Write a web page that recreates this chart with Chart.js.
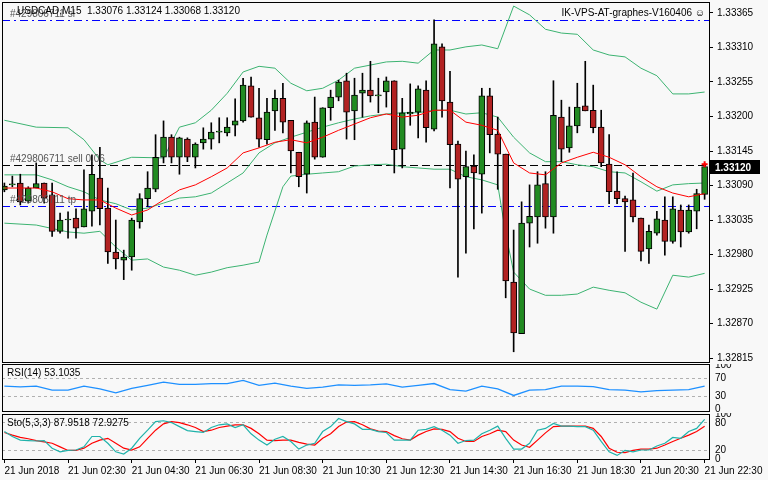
<!DOCTYPE html>
<html><head><meta charset="utf-8">
<script src="https://cdn.jsdelivr.net/npm/chart.js@4"></script>
<style>
body{margin:0;background:#f8f8f8;width:768px;height:480px;overflow:hidden;position:relative;font-family:"Liberation Sans",Arial,sans-serif}
canvas{position:absolute;left:0}
</style></head><body>
<canvas id="main" width="768" height="364" style="top:0"></canvas>
<canvas id="rsi" width="768" height="48" style="top:364px"></canvas>
<canvas id="sto" width="768" height="67" style="top:413px"></canvas>
<script>
const timeLabels=["21 Jun 2018","21 Jun 02:30","21 Jun 04:30","21 Jun 06:30","21 Jun 08:30","21 Jun 10:30","21 Jun 12:30","21 Jun 14:30","21 Jun 16:30","21 Jun 18:30","21 Jun 20:30","21 Jun 22:30"];
const priceTicks=[1.32815,1.32870,1.32925,1.32980,1.33035,1.33090,1.33145,1.33200,1.33255,1.33310,1.33365];
const open=[1.33083,1.33091,1.33094,1.33065,1.33086,1.33094,1.33075,1.33017,1.33035,1.33038,1.33024,1.33049,1.33102,1.33054,1.32984,1.32971,1.32976,1.33032,1.33069,1.33084,1.33135,1.33167,1.33135,1.33164,1.33135,1.33158,1.33164,1.33175,1.33174,1.33186,1.33193,1.33249,1.33198,1.33163,1.33209,1.33229,1.33194,1.33143,1.33108,1.33191,1.33135,1.33214,1.33231,1.33257,1.33209,1.33237,1.33242,1.33233,1.33239,1.33257,1.33148,1.33204,1.33207,1.33242,1.33180,1.33311,1.33223,1.33156,1.33104,1.33121,1.33108,1.33233,1.33172,1.33140,1.32936,1.32854,1.33030,1.33040,1.33093,1.33040,1.33199,1.33150,1.33185,1.33217,1.33210,1.33183,1.33124,1.33081,1.33069,1.33067,1.33038,1.32989,1.33014,1.33035,1.33001,1.33051,1.33016,1.33049,1.33076];
const close=[1.33089,1.33091,1.33064,1.33086,1.33093,1.33070,1.33017,1.33035,1.33035,1.33022,1.33053,1.33108,1.33053,1.32984,1.32973,1.32976,1.33035,1.33069,1.33086,1.33135,1.33167,1.33135,1.33166,1.33135,1.33156,1.33164,1.33175,1.33175,1.33183,1.33193,1.33250,1.33199,1.33164,1.33207,1.33229,1.33191,1.33145,1.33104,1.33190,1.33135,1.33214,1.33231,1.33255,1.33207,1.33234,1.33242,1.33233,1.33233,1.33257,1.33147,1.33206,1.33207,1.33244,1.33182,1.33316,1.33225,1.33155,1.33100,1.33120,1.33110,1.33233,1.33171,1.33140,1.32938,1.32855,1.33030,1.33041,1.33091,1.33040,1.33202,1.33148,1.33185,1.33215,1.33209,1.33182,1.33126,1.33080,1.33069,1.33064,1.33040,1.32985,1.33017,1.33037,1.33001,1.33053,1.33016,1.33051,1.33077,1.33120];
const high=[1.33094,1.33105,1.33108,1.33088,1.33126,1.33094,1.33094,1.33046,1.33048,1.33053,1.33115,1.33139,1.33151,1.33086,1.33035,1.32987,1.33038,1.33077,1.33112,1.33171,1.33193,1.33171,1.33167,1.33166,1.33158,1.33182,1.33190,1.33198,1.33198,1.33228,1.33261,1.33263,1.33245,1.33229,1.33242,1.33253,1.33194,1.33143,1.33193,1.33231,1.33214,1.33242,1.33258,1.33269,1.33261,1.33269,1.33288,1.33261,1.33263,1.33257,1.33229,1.33252,1.33249,1.33257,1.33354,1.33316,1.33272,1.33161,1.33145,1.33139,1.33245,1.33245,1.33199,1.33140,1.33019,1.33064,1.33091,1.33112,1.33112,1.33257,1.33226,1.33215,1.33253,1.33288,1.33250,1.33210,1.33171,1.33112,1.33073,1.33110,1.33038,1.33027,1.33049,1.33072,1.33072,1.33059,1.33059,1.33084,1.33124];
const low=[1.33080,1.33088,1.33059,1.33062,1.33086,1.33062,1.33009,1.33014,1.33006,1.33006,1.33024,1.33025,1.33027,1.32966,1.32957,1.32940,1.32955,1.33022,1.33056,1.33080,1.33126,1.33126,1.33108,1.33128,1.33118,1.33148,1.33148,1.33158,1.33169,1.33169,1.33191,1.33199,1.33151,1.33156,1.33178,1.33174,1.33110,1.33088,1.33078,1.33132,1.33135,1.33194,1.33225,1.33164,1.33163,1.33199,1.33223,1.33206,1.33215,1.33110,1.33118,1.33186,1.33166,1.33159,1.33177,1.33199,1.33086,1.32944,1.32982,1.33021,1.33046,1.33142,1.33084,1.32911,1.32825,1.32854,1.32992,1.32998,1.33022,1.33014,1.33128,1.33143,1.33174,1.33209,1.33174,1.33120,1.33061,1.33061,1.32985,1.33032,1.32970,1.32966,1.33011,1.32979,1.32998,1.32992,1.33014,1.33021,1.33068];
const bbUpper=[[0,1.33194],[4,1.33183],[8,1.33182],[10,1.33163],[12,1.33131],[13,1.33123],[16,1.33135],[20,1.33134],[22,1.33183],[24,1.33190],[26,1.33210],[28,1.33237],[30,1.33271],[32,1.33280],[34,1.33277],[36,1.33253],[38,1.33241],[40,1.33245],[42,1.33258],[44,1.33277],[46,1.33282],[48,1.33287],[50,1.33288],[52,1.33285],[54,1.33306],[56,1.33306],[58,1.33311],[60,1.33314],[62,1.33308],[64,1.33376],[66,1.33362],[68,1.33339],[70,1.33333],[72,1.33331],[74,1.33306],[76,1.33298],[78,1.33295],[80,1.33277],[82,1.33265],[84,1.33236],[86,1.33236],[88,1.33239]];
const bbMiddle=[[0,1.33107],[4,1.33107],[6,1.33099],[8,1.33088],[10,1.33080],[12,1.33067],[14,1.33061],[16,1.33051],[18,1.33054],[20,1.33062],[22,1.33070],[24,1.33072],[26,1.33078],[28,1.33094],[30,1.33110],[32,1.33142],[34,1.33158],[36,1.33167],[38,1.33175],[40,1.33183],[42,1.33190],[44,1.33196],[46,1.33201],[48,1.33204],[50,1.33206],[52,1.33206],[54,1.33210],[56,1.33210],[58,1.33204],[60,1.33206],[62,1.33199],[64,1.33167],[66,1.33142],[68,1.33128],[70,1.33128],[72,1.33123],[74,1.33120],[76,1.33112],[78,1.33110],[80,1.33096],[82,1.33081],[84,1.33091],[86,1.33093],[88,1.33094]];
const bbLower=[[0,1.33030],[4,1.33027],[8,1.33016],[10,1.33014],[12,1.33017],[14,1.32992],[16,1.32971],[18,1.32973],[20,1.32960],[22,1.32955],[24,1.32947],[26,1.32952],[28,1.32959],[30,1.32963],[32,1.32968],[33,1.33011],[35,1.33088],[36,1.33105],[38,1.33108],[40,1.33110],[42,1.33112],[44,1.33121],[46,1.33123],[48,1.33124],[50,1.33120],[52,1.33118],[54,1.33116],[56,1.33116],[58,1.33104],[60,1.33099],[62,1.33091],[63,1.33014],[64,1.32952],[66,1.32925],[68,1.32915],[70,1.32915],[72,1.32917],[74,1.32928],[76,1.32923],[78,1.32919],[80,1.32904],[82,1.32893],[84,1.32947],[86,1.32944],[88,1.32950]];
const maRed=[[0,1.33086],[4,1.33086],[6,1.33080],[8,1.33069],[10,1.33067],[12,1.33067],[14,1.33054],[16,1.33043],[18,1.33051],[20,1.33067],[22,1.33083],[24,1.33091],[26,1.33104],[28,1.33118],[30,1.33142],[32,1.33150],[34,1.33159],[36,1.33163],[38,1.33158],[40,1.33167],[42,1.33178],[44,1.33188],[46,1.33198],[48,1.33204],[50,1.33199],[52,1.33202],[54,1.33210],[56,1.33210],[58,1.33191],[60,1.33186],[62,1.33178],[64,1.33126],[66,1.33110],[68,1.33107],[70,1.33126],[72,1.33135],[74,1.33143],[76,1.33135],[78,1.33123],[80,1.33104],[82,1.33088],[84,1.33078],[86,1.33072],[88,1.33077]];
const orderLevels=[["#429806711 sl",1.33354,"#0000ff"],["#429806711 sell 0.06",1.33123,"#000000"],["#429806711 tp",1.33057,"#0000ff"]];
const rsiVals=[[0,53],[2,51.5],[4,53],[6,44],[8,44],[10,53],[12,47],[14,38],[16,48],[18,55],[20,62],[22,57],[24,57],[26,59],[28,59],[30,66],[32,55],[34,60],[36,53],[38,48],[40,51],[42,56],[44,55],[46,56],[48,58],[50,51],[52,55],[54,59],[56,45],[58,42],[60,53],[62,47],[64,32],[66,44],[68,45],[70,53],[72,53],[74,52],[76,45],[78,44],[80,40],[82,43],[84,44],[86,45],[88,53.1]];
const stoK=[61,50,42,41,40,41,24,16,19,20,27,50,50,35,16,11,24,46,64,83,85,81,72,63,61,59,70,76,78,70,76,56,42,31,44,50,39,22,31,35,61,72,90,83,78,66,66,61,59,42,42,42,64,66,72,64,53,35,41,42,56,64,73,46,22,22,35,64,68,79,73,73,72,72,64,39,16,8,19,16,20,20,29,35,48,46,61,68,88];
const stoD=[59,53,48,45,41,38,35,27,19,19,24,35,42,46,35,24,20,27,46,64,78,83,81,76,70,61,64,70,73,76,76,68,56,42,41,42,42,37,33,31,46,56,72,82,83,76,67,62,61,52,45,42,53,61,67,66,61,46,39,39,50,56,64,61,42,31,26,42,58,72,73,73,73,73,68,50,24,15,14,19,22,22,24,31,39,46,53,61,73];

const FONT="'Liberation Sans', Arial, sans-serif";
const FS=10;
Chart.defaults.font.family=FONT;Chart.defaults.font.size=FS;Chart.defaults.color='#000';
Chart.defaults.animation=false;
const XMIN=-0.3,XMAX=88.55;
const pairs=a=>a.map(p=>({x:p[0],y:p[1]}));
const frame={id:'frame',afterDraw(c){const a=c.chartArea,x=c.ctx;x.save();x.strokeStyle='#000';x.lineWidth=1;x.strokeRect(Math.round(a.left)+0.5,Math.round(a.top)+0.5,Math.round(a.right-a.left),Math.round(a.bottom-a.top));x.restore();}};
const fitY=s=>{s.width=59;s.paddingTop=0;s.paddingBottom=0;};
const rightAxis=(min,max,ticks,fmt,extra)=>Object.assign({position:'right',min,max,
  afterFit:fitY,afterBuildTicks:s=>{s.ticks=ticks.map(v=>({value:v}))},
  ticks:{callback:fmt,padding:4,font:{size:FS},color:'#000',autoSkip:false},
  grid:{drawOnChartArea:false,tickLength:4,color:'#000'},border:{display:false}},extra||{});
const hiddenX={type:'linear',min:XMIN,max:XMAX,display:false,offset:false};

const idx=open.map((_,i)=>i);
const up=i=>close[i]>=open[i];
const mainPlugin={id:'mainText',
 beforeDatasetsDraw(c){const x=c.ctx,a=c.chartArea,ys=c.scales.y;x.save();
  orderLevels.forEach(([t,v,col])=>{const y=Math.round(ys.getPixelForValue(v))+0.5;x.strokeStyle=col;x.lineWidth=1;
   x.setLineDash(col==='#000000'?[8,4]:[8,4,2,4]);x.beginPath();x.moveTo(a.left,y);x.lineTo(a.right,y);x.stroke();});
  x.restore();},
 afterDraw(c){const x=c.ctx,a=c.chartArea,ys=c.scales.y,xs=c.scales.x;x.save();x.setLineDash([]);
  x.font=FS+'px '+FONT;x.textBaseline='alphabetic';
  orderLevels.forEach(([t,v])=>{const y=ys.getPixelForValue(v);x.fillStyle='#555';x.fillText(t,10,y-3);});
  x.fillStyle='#000';x.fillText('USDCAD,M15  1.33076 1.33124 1.33068 1.33120',17,14);
  x.textAlign='right';x.fillText('IK-VPS-AT-graphes-V160406 \u263A',a.right-4,16);
  const py=Math.round(ys.getPixelForValue(close[close.length-1]));
  x.fillStyle='#000';x.fillRect(a.right+1,py-7,50,14);x.fillStyle='#fff';x.textAlign='left';x.textBaseline='middle';
  x.font='bold '+FS+'px '+FONT;x.fillText(close[close.length-1].toFixed(5),a.right+6,py+1);
  const mx=xs.getPixelForValue(88),my=ys.getPixelForValue(1.33124);x.strokeStyle='#ff0000';x.lineWidth=2;
  x.beginPath();x.moveTo(mx-3,my);x.lineTo(mx+3,my);x.moveTo(mx,my-3);x.lineTo(mx,my+3);x.stroke();
  x.restore();}};

new Chart(document.getElementById('main'),{type:'bar',
 data:{datasets:[
  {type:'line',data:pairs(maRed),borderColor:'#ff0000',borderWidth:1,pointRadius:0,order:0},
  {type:'line',data:pairs(bbUpper),borderColor:'#3cb371',borderWidth:1,pointRadius:0,order:3},
  {type:'line',data:pairs(bbMiddle),borderColor:'#3cb371',borderWidth:1,pointRadius:0,order:3},
  {type:'line',data:pairs(bbLower),borderColor:'#3cb371',borderWidth:1,pointRadius:0,order:3},
  {data:idx.map(i=>({x:i,y:[low[i],high[i]]})),backgroundColor:'#000',barThickness:1,grouped:false,order:2},
  {data:idx.map(i=>({x:i,y:[open[i],close[i]]})),backgroundColor:idx.map(i=>up(i)?'#228b22':'#b22222'),borderColor:'#000',borderWidth:1,borderSkipped:false,barThickness:6,minBarLength:1,grouped:false,order:1}
 ]},
 options:{responsive:false,devicePixelRatio:1,layout:{autoPadding:false,padding:{left:2,top:2,bottom:2,right:0}},
  plugins:{legend:{display:false},tooltip:{enabled:false}},
  scales:{x:hiddenX,y:rightAxis(1.328087,1.333825,priceTicks,v=>v.toFixed(5))}},
 plugins:[frame,mainPlugin]});

const labelPlugin=t=>({id:'lbl',afterDraw(c){const x=c.ctx;x.save();x.font=FS+'px '+FONT;x.fillStyle='#000';x.textBaseline='top';x.fillText(t,7,c.chartArea.top+4);x.restore();}});
const gridAt=lv=>({drawOnChartArea:true,drawTicks:false,color:c=>lv.includes(c.tick&&c.tick.value)?'#b0b0b0':'rgba(0,0,0,0)'});
const dashBorder={display:false,dash:[3,3]};
const tk={callback:v=>String(v),padding:6,font:{size:FS},color:'#000',autoSkip:false};

new Chart(document.getElementById('rsi'),{type:'line',
 data:{datasets:[{data:pairs(rsiVals),borderColor:'#1e90ff',borderWidth:1.3,pointRadius:0}]},
 options:{responsive:false,devicePixelRatio:1,layout:{autoPadding:false,padding:{left:2,top:0,bottom:1,right:0}},
  plugins:{legend:{display:false},tooltip:{enabled:false}},
  scales:{x:hiddenX,y:rightAxis(-3.3,103.3,[0,30,70,100],v=>String(v),{grid:gridAt([30,70]),border:dashBorder,ticks:tk})}},
 plugins:[frame,labelPlugin('RSI(14) 53.1035')]});

new Chart(document.getElementById('sto'),{type:'line',
 data:{datasets:[
  {data:idx.map(i=>({x:i,y:stoK[i]})),borderColor:'#20b2aa',borderWidth:1.2,pointRadius:0},
  {data:idx.map(i=>({x:i,y:stoD[i]})),borderColor:'#ff0000',borderWidth:1.2,pointRadius:0}]},
 options:{responsive:false,devicePixelRatio:1,layout:{autoPadding:false,padding:{left:2,top:1,bottom:0,right:0}},
  plugins:{legend:{display:false},tooltip:{enabled:false}},
  scales:{x:{type:'linear',offset:false,min:XMIN,max:XMAX,afterFit:s=>{s.height=21;s.paddingLeft=0;s.paddingRight=0;},
     afterBuildTicks:s=>{s.ticks=timeLabels.map((_,k)=>({value:k*8}))},
     ticks:{autoSkip:false,maxRotation:0,align:'start',padding:2,callback:(v)=>timeLabels[Math.round(v/8)],font:{size:FS},color:'#000'},
     grid:{drawOnChartArea:false,tickLength:4,color:'#000'},border:{display:false}},
   y:rightAxis(0,100,[0,20,80,100],v=>String(v),{grid:gridAt([20,80]),border:dashBorder,ticks:tk})}},
 plugins:[frame,labelPlugin('Sto(5,3,3) 87.9518 72.9275')]});
</script></body></html>
